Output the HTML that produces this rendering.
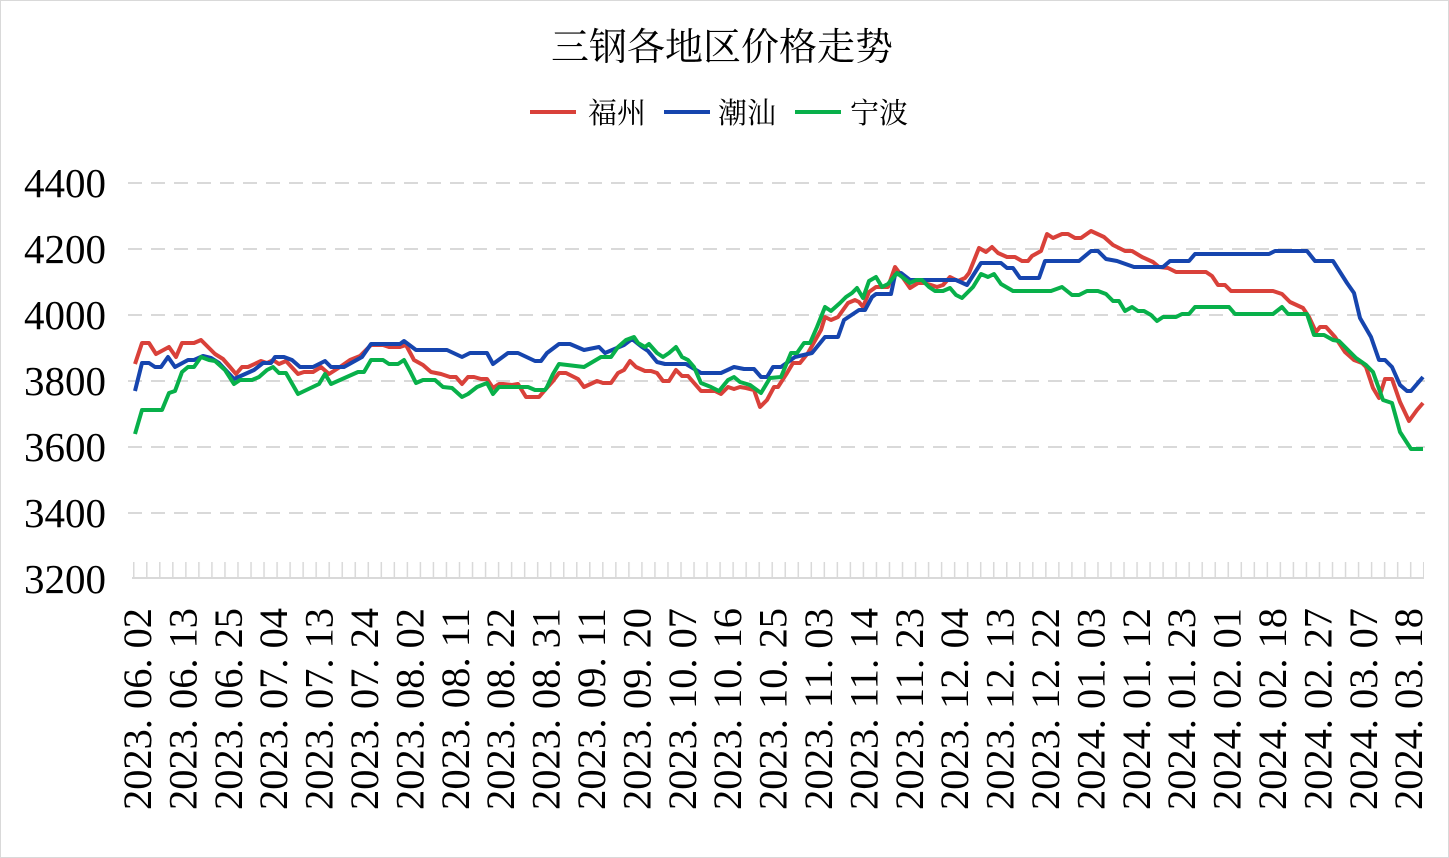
<!DOCTYPE html>
<html><head><meta charset="utf-8"><style>
html,body{margin:0;padding:0;background:#fff}
svg{display:block}
</style></head><body>
<svg width="1449" height="858" viewBox="0 0 1449 858" xmlns="http://www.w3.org/2000/svg">
<defs>
<pattern id="tk" x="133" y="562" width="13.03" height="16" patternUnits="userSpaceOnUse">
<rect x="0" y="0" width="1.5" height="16" fill="#d9d9d9"/>
</pattern>
</defs>
<rect x="0.5" y="0.5" width="1448" height="857" fill="#fff" stroke="#d9d9d9"/>
<text x="722" y="60" text-anchor="middle" font-family="'Liberation Serif','Noto Serif CJK SC',serif" font-size="38" fill="#000">三钢各地区价格走势</text>
<g font-family="'Liberation Serif','Noto Serif CJK SC',serif" font-size="29" fill="#000">
<line x1="530" y1="112" x2="576" y2="112" stroke="#d9413a" stroke-width="4"/>
<text x="588" y="123">福州</text>
<line x1="664" y1="112" x2="710" y2="112" stroke="#1645ae" stroke-width="4"/>
<text x="718" y="123">潮汕</text>
<line x1="795" y1="112" x2="841" y2="112" stroke="#08b04a" stroke-width="4"/>
<text x="850" y="123">宁波</text>
</g>
<g stroke="#d9d9d9" stroke-width="2" stroke-dasharray="14,9">
<line x1="128" y1="183" x2="1425" y2="183"/>
<line x1="128" y1="249" x2="1425" y2="249"/>
<line x1="128" y1="315" x2="1425" y2="315"/>
<line x1="128" y1="381" x2="1425" y2="381"/>
<line x1="128" y1="447" x2="1425" y2="447"/>
<line x1="128" y1="513" x2="1425" y2="513"/>
</g>
<rect x="132" y="562" width="1292" height="16" fill="url(#tk)"/>
<line x1="132" y1="578" x2="1424" y2="578" stroke="#d9d9d9" stroke-width="2"/>
<g font-family="'Liberation Serif',serif" font-size="41" fill="#000" text-anchor="end">
<text x="106" y="197">4400</text>
<text x="106" y="263">4200</text>
<text x="106" y="329">4000</text>
<text x="106" y="395">3800</text>
<text x="106" y="461">3600</text>
<text x="106" y="527">3400</text>
<text x="106" y="593">3200</text>
</g>
<g font-family="'Liberation Serif',serif" font-size="40" fill="#000" textLength="202" lengthAdjust="spacingAndGlyphs">
<text transform="translate(151,810) rotate(-90)" textLength="202" lengthAdjust="spacingAndGlyphs">2023. 06. 02</text>
<text transform="translate(196.4,810) rotate(-90)" textLength="202" lengthAdjust="spacingAndGlyphs">2023. 06. 13</text>
<text transform="translate(241.8,810) rotate(-90)" textLength="202" lengthAdjust="spacingAndGlyphs">2023. 06. 25</text>
<text transform="translate(287.2,810) rotate(-90)" textLength="202" lengthAdjust="spacingAndGlyphs">2023. 07. 04</text>
<text transform="translate(332.6,810) rotate(-90)" textLength="202" lengthAdjust="spacingAndGlyphs">2023. 07. 13</text>
<text transform="translate(378,810) rotate(-90)" textLength="202" lengthAdjust="spacingAndGlyphs">2023. 07. 24</text>
<text transform="translate(423.4,810) rotate(-90)" textLength="202" lengthAdjust="spacingAndGlyphs">2023. 08. 02</text>
<text transform="translate(468.8,810) rotate(-90)" textLength="202" lengthAdjust="spacingAndGlyphs">2023. 08. 11</text>
<text transform="translate(514.2,810) rotate(-90)" textLength="202" lengthAdjust="spacingAndGlyphs">2023. 08. 22</text>
<text transform="translate(559.6,810) rotate(-90)" textLength="202" lengthAdjust="spacingAndGlyphs">2023. 08. 31</text>
<text transform="translate(605,810) rotate(-90)" textLength="202" lengthAdjust="spacingAndGlyphs">2023. 09. 11</text>
<text transform="translate(650.4,810) rotate(-90)" textLength="202" lengthAdjust="spacingAndGlyphs">2023. 09. 20</text>
<text transform="translate(695.8,810) rotate(-90)" textLength="202" lengthAdjust="spacingAndGlyphs">2023. 10. 07</text>
<text transform="translate(741.2,810) rotate(-90)" textLength="202" lengthAdjust="spacingAndGlyphs">2023. 10. 16</text>
<text transform="translate(786.6,810) rotate(-90)" textLength="202" lengthAdjust="spacingAndGlyphs">2023. 10. 25</text>
<text transform="translate(832,810) rotate(-90)" textLength="202" lengthAdjust="spacingAndGlyphs">2023. 11. 03</text>
<text transform="translate(877.4,810) rotate(-90)" textLength="202" lengthAdjust="spacingAndGlyphs">2023. 11. 14</text>
<text transform="translate(922.8,810) rotate(-90)" textLength="202" lengthAdjust="spacingAndGlyphs">2023. 11. 23</text>
<text transform="translate(968.2,810) rotate(-90)" textLength="202" lengthAdjust="spacingAndGlyphs">2023. 12. 04</text>
<text transform="translate(1013.6,810) rotate(-90)" textLength="202" lengthAdjust="spacingAndGlyphs">2023. 12. 13</text>
<text transform="translate(1059,810) rotate(-90)" textLength="202" lengthAdjust="spacingAndGlyphs">2023. 12. 22</text>
<text transform="translate(1104.4,810) rotate(-90)" textLength="202" lengthAdjust="spacingAndGlyphs">2024. 01. 03</text>
<text transform="translate(1149.8,810) rotate(-90)" textLength="202" lengthAdjust="spacingAndGlyphs">2024. 01. 12</text>
<text transform="translate(1195.2,810) rotate(-90)" textLength="202" lengthAdjust="spacingAndGlyphs">2024. 01. 23</text>
<text transform="translate(1240.6,810) rotate(-90)" textLength="202" lengthAdjust="spacingAndGlyphs">2024. 02. 01</text>
<text transform="translate(1286,810) rotate(-90)" textLength="202" lengthAdjust="spacingAndGlyphs">2024. 02. 18</text>
<text transform="translate(1331.4,810) rotate(-90)" textLength="202" lengthAdjust="spacingAndGlyphs">2024. 02. 27</text>
<text transform="translate(1376.8,810) rotate(-90)" textLength="202" lengthAdjust="spacingAndGlyphs">2024. 03. 07</text>
<text transform="translate(1422.2,810) rotate(-90)" textLength="202" lengthAdjust="spacingAndGlyphs">2024. 03. 18</text>
</g>
<g fill="none" stroke-width="4" stroke-linejoin="round">
<polyline stroke="#d9413a" points="135,364 142,343 149,343 156,354 169,347 176,357 182,343 194,343 201,340 215,354 223,359 230,367 236,374 242,367 248,367 261,361 267,363 273,360 279,364 286,361 298,374 304,372 313,372 321,367 329,374 340,367 350,360 360,356 371,345 383,345 389,347 400,347 406,345 414,360 423,365 431,372 441,374 450,377 456,377 462,384 468,377 474,377 481,379 487,379 493,388 499,384 503,384 512,385 518,384 526,397 539,397 545,390 553,381 559,373 566,373 578,379 584,387 597,381 603,383 611,383 618,373 624,370 630,361 636,367 645,371 651,371 657,373 663,381 669,381 676,370 682,376 688,376 701,391 715,391 721,394 728,387 734,389 740,387 746,388 754,390 760,407 767,400 774,387 778,387 787,373 793,363 800,363 808,353 821,330 825,317 831,320 838,317 848,303 855,300 859,302 863,307 869,292 876,287 888,287 895,267 901,275 910,288 918,283 924,283 931,285 937,287 943,285 950,277 958,281 965,278 969,273 979,248 986,252 992,247 998,253 1007,257 1015,257 1022,261 1028,261 1032,256 1041,251 1047,234 1053,238 1062,234 1068,234 1075,238 1081,238 1091,231 1104,237 1113,245 1125,251 1132,251 1142,257 1153,262 1159,267 1168,268 1176,272 1206,272 1212,276 1218,285 1225,285 1231,291 1273,291 1282,294 1290,302 1303,308 1309,317 1316,332 1320,327 1326,327 1335,337 1345,352 1354,360 1362,363 1366,367 1373,388 1379,398 1385,379 1392,379 1400,402 1409,421 1417,410 1423,403"/>
<polyline stroke="#1645ae" points="135,391 142,363 149,363 155,367 161,367 168,357 175,367 188,360 194,360 203,356 211,358 219,363 234,379 254,370 263,363 271,363 275,357 284,357 292,360 300,367 313,367 325,361 331,367 344,367 362,357 371,344 400,344 404,341 416,350 447,350 462,357 470,353 487,353 493,364 508,353 518,353 535,361 541,361 547,353 559,344 570,344 584,350 599,347 605,353 624,345 632,339 642,347 648,351 657,362 665,364 686,364 701,373 721,373 734,367 744,369 754,369 761,377 767,377 773,367 781,367 795,357 812,353 825,337 838,337 844,320 859,310 865,310 872,297 876,294 891,294 895,275 901,273 910,280 956,280 967,285 981,263 1001,263 1007,268 1013,268 1020,278 1039,278 1045,261 1079,261 1091,251 1098,251 1106,259 1117,261 1134,267 1163,267 1170,261 1189,261 1195,254 1269,254 1275,251 1307,251 1315,261 1333,261 1347,283 1354,293 1360,318 1371,337 1379,360 1385,360 1392,367 1400,385 1407,391 1411,391 1423,377"/>
<polyline stroke="#08b04a" points="135,434 142,410 162,410 169,393 175,391 182,372 188,367 194,367 201,357 209,360 215,361 225,370 234,384 240,380 252,380 259,377 267,370 273,367 279,373 286,373 298,394 319,384 325,374 331,384 358,372 364,372 371,360 383,360 389,364 398,364 404,360 410,371 416,383 423,380 435,380 443,387 452,388 462,397 468,394 477,387 487,383 493,394 499,387 528,387 535,390 545,390 547,387 553,374 559,364 584,367 601,357 611,357 618,347 626,340 634,337 638,343 645,347 649,344 657,353 663,357 669,353 676,347 682,357 688,360 694,367 701,383 711,387 719,391 728,380 734,377 740,382 750,385 761,393 770,378 781,377 791,353 797,353 804,343 810,343 817,327 825,307 831,311 840,303 846,297 852,293 857,288 863,298 869,281 876,277 882,287 888,284 897,273 910,283 916,280 922,280 929,287 935,291 943,291 950,288 956,295 962,298 973,287 981,274 988,277 994,274 1001,284 1013,291 1051,291 1062,287 1072,295 1079,295 1087,291 1098,291 1106,294 1113,301 1119,301 1125,311 1132,307 1138,311 1144,311 1151,315 1157,321 1163,317 1176,317 1182,314 1189,314 1195,307 1229,307 1235,314 1273,314 1282,307 1288,314 1307,314 1314,335 1324,335 1333,340 1339,341 1350,352 1356,358 1366,365 1373,372 1383,400 1392,403 1400,432 1411,449 1423,449"/>
</g>
</svg>
</body></html>
